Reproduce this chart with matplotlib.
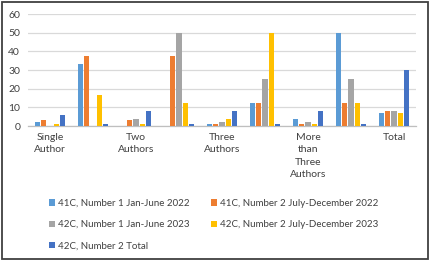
import matplotlib
matplotlib.use("Agg")
import matplotlib.pyplot as plt
from matplotlib.patches import Rectangle
import numpy as np

plt.rcParams['font.family'] = ['Lato', 'DejaVu Sans']

categories = ["Single\nAuthor", "", "Two\nAuthors", "", "Three\nAuthors", "",
              "More\nthan\nThree\nAuthors", "", "Total"]
series_names = ["41C, Number 1 Jan-June 2022", "41C, Number 2 July-December 2022",
                "42C, Number 1 Jan-June 2023", "42C, Number 2 July-December 2023",
                "42C, Number 2 Total"]
s41_n1 = [2, 33.3, 0, 0, 1, 12.5, 4, 50, 7]
s41_n2 = [3, 37.5, 3, 37.5, 1, 12.5, 1, 12.5, 8]
s42_n1 = [0, 0, 4, 50, 2, 25, 2, 25, 8]
s42_n2 = [1, 16.7, 1, 12.5, 4, 50, 1, 12.5, 7]
s42_total = [6, 1, 8, 1, 8, 1, 8, 1, 30]
colors = ["#5B9BD5", "#ED7D31", "#A5A5A5", "#FFC000", "#4472C4"]

series = [s41_n1, s41_n2, s42_n1, s42_n2, s42_total]

fig = plt.figure(figsize=(4.30, 2.61), dpi=100)
ax = fig.add_axes([28.5/430, 1-126/261, (415.5-28.5)/430, (126-14)/261])

x = np.arange(len(categories))
slot = 0.15
bw = 0.12
handles = []
for i, (vals, c, name) in enumerate(zip(series, colors, series_names)):
    h = ax.bar(x + (i-2)*slot, vals, width=bw, color=c, label=name, zorder=3)
    handles.append(h)

ax.set_xlim(-0.5, len(categories)-0.5)
ax.set_ylim(0, 60)
ax.set_yticks(range(0, 61, 10))
ax.yaxis.grid(True, color="#D9D9D9", linewidth=0.9, zorder=0)
for s in ["top", "right", "left"]:
    ax.spines[s].set_visible(False)
ax.spines["bottom"].set_color("#BFBFBF")
ax.spines["bottom"].set_linewidth(0.9)
ax.tick_params(axis="y", length=0, pad=6, labelsize=7.5, labelcolor="#404040")
ax.tick_params(axis="x", length=0, pad=5, labelsize=7.5, labelcolor="#404040")
ax.set_xticks(x)
ax.set_xticklabels(categories, linespacing=1.5, va="top")

order = [0, 2, 4, 1, 3]
leg = fig.legend([handles[i] for i in order], [series_names[i] for i in order],
                 ncol=2, loc="upper left", bbox_to_anchor=(49/430, 1-199/261),
                 frameon=False, fontsize=7, handlelength=0.6, handleheight=0.6,
                 handletextpad=0.35, columnspacing=2.2, labelspacing=1.25,
                 borderaxespad=0, borderpad=0)
for t in leg.get_texts():
    t.set_color("#404040")

fig.patches.append(Rectangle((0.004, 0.008), 0.992, 0.986, transform=fig.transFigure,
                             fill=False, edgecolor="#404040", linewidth=1.3))

fig.savefig("out.png", dpi=100)
